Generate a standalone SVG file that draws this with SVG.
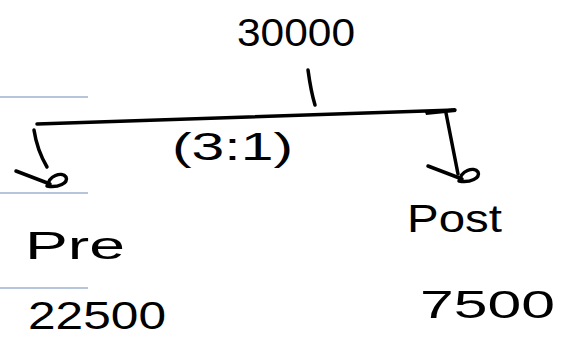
<svg xmlns="http://www.w3.org/2000/svg" width="571" height="337" viewBox="0 0 571 337">
<style>
.ink{fill:none;stroke:#000;stroke-width:3.5;stroke-linecap:round;stroke-linejoin:round}
.rule{stroke:#b7c5da;stroke-width:2}
.t{font-family:"Liberation Sans","DejaVu Sans",sans-serif;fill:#000;font-size:38px}
</style>
<defs>
<path id="hd" class="ink" d="M-32,-9 L2,4 M0,6 C0,-4 14,-9 18,-3 C21,3 10,8 -1,6"/>
</defs>
<rect width="571" height="337" fill="#fff"/>
<g id="rules">
<line class="rule" x1="0" y1="97" x2="88" y2="97"/>
<line class="rule" x1="0" y1="193" x2="88" y2="193"/>
<line class="rule" x1="0" y1="288" x2="88" y2="288"/>
</g>
<g id="connectors">
<path class="ink" d="M308,70 Q311,92 315,105"/>
<path class="ink" d="M37,124 L455,110"/>
<path d="M425,112 L455,108 L456,112 L426,115 Z" fill="#000"/>
<path class="ink" d="M34,130 Q37,150 47,167"/>
<path class="ink" d="M446,113 L458,174"/>
<use href="#hd" x="48" y="180"/>
<use href="#hd" x="460" y="175"/>
<text class="t" x="172" y="160" textLength="121" lengthAdjust="spacingAndGlyphs" font-size="34">(3:1)</text>
</g>
<g id="n-total">
<text class="t" x="237" y="46" textLength="118" lengthAdjust="spacingAndGlyphs" font-size="40">30000</text>
</g>
<g id="n-pre">
<text class="t" x="25" y="259" textLength="100" lengthAdjust="spacingAndGlyphs" font-size="44">Pre</text>
<text class="t" x="28" y="329" textLength="138" lengthAdjust="spacingAndGlyphs" font-size="42">22500</text>
</g>
<g id="n-post">
<text class="t" x="407" y="232" textLength="95" lengthAdjust="spacingAndGlyphs" font-size="42">Post</text>
<text class="t" x="420" y="318" textLength="135" lengthAdjust="spacingAndGlyphs" font-size="44">7500</text>
</g>
</svg>
